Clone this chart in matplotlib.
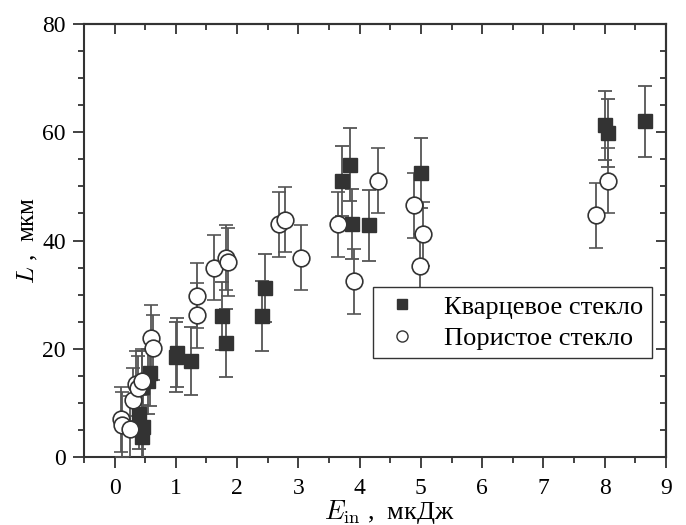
import matplotlib.pyplot as plt
from matplotlib.lines import Line2D
from matplotlib.ticker import MultipleLocator

plt.rcParams["font.family"] = ["Liberation Serif", "DejaVu Serif"]
plt.rcParams["mathtext.fontset"] = "cm"

# Кварцевое стекло
quartz_e = [0.45, 0.46, 0.40, 0.45, 0.55, 0.57, 1.00, 1.02, 1.25, 1.75, 1.82,
            2.40, 2.45, 3.72, 3.85, 3.87, 4.15, 5.00, 8.00, 8.05, 8.65]
quartz_l = [3.7, 5.5, 8.0, 13.0, 14.0, 15.5, 18.5, 19.3, 17.8, 26.0, 21.0,
            26.0, 31.2, 51.0, 54.0, 43.0, 42.8, 52.5, 61.3, 59.8, 62.0]
quartz_err = [6.0, 6.0, 6.5, 6.5, 6.0, 6.0, 6.5, 6.3, 6.3, 6.3, 6.3,
              6.5, 6.3, 6.5, 6.7, 6.5, 6.5, 6.5, 6.4, 6.3, 6.5]

# Пористое стекло
porous_e = [0.10, 0.12, 0.25, 0.30, 0.35, 0.38, 0.45, 0.60, 0.62, 1.35, 1.35,
            1.62, 1.82, 1.85, 2.68, 2.78, 3.05, 3.65, 3.90, 4.30, 4.88, 4.98,
            5.03, 7.85, 8.05]
porous_l = [7.0, 6.0, 5.2, 10.5, 13.5, 12.7, 14.0, 22.0, 20.2, 26.2, 29.8,
            35.0, 36.8, 36.0, 43.0, 43.8, 36.8, 43.0, 32.5, 51.0, 46.5, 35.2,
            41.2, 44.7, 51.0]
porous_err = [6.0, 6.0, 6.0, 6.0, 6.0, 6.0, 6.0, 6.0, 6.0, 6.0, 6.0,
              6.0, 6.0, 6.3, 6.0, 6.0, 6.0, 6.0, 6.0, 6.0, 6.0, 6.0,
              6.0, 6.0, 6.0]

labels = ["Кварцевое стекло", "Пористое стекло"]
DARK = "#333333"
BAR = "#555555"

fig = plt.figure(figsize=(6.86, 5.25), dpi=100)
ax = fig.add_axes([0.1224, 0.1295, 0.8484, 0.8248])

ax.errorbar(quartz_e, quartz_l, yerr=quartz_err, fmt="s", color=DARK,
            markersize=10, ecolor=BAR, elinewidth=1.3, capsize=5,
            capthick=1.3, zorder=3)
ax.errorbar(porous_e, porous_l, yerr=porous_err, fmt="o", mfc="white",
            mec=DARK, mew=1.2, markersize=12, ecolor=BAR,
            elinewidth=1.3, capsize=5, capthick=1.3, zorder=3)

ax.set_xlim(-0.5, 9)
ax.set_ylim(0, 80)
ax.xaxis.set_major_locator(MultipleLocator(1))
ax.xaxis.set_minor_locator(MultipleLocator(0.5))
ax.yaxis.set_major_locator(MultipleLocator(20))
ax.yaxis.set_minor_locator(MultipleLocator(5))

for spine in ax.spines.values():
    spine.set_linewidth(1.5)
    spine.set_color(DARK)
ax.tick_params(which="both", direction="out", color=DARK, width=1.3,
               labelsize=17, top=False, right=False)
ax.tick_params(which="major", length=8)
ax.tick_params(which="minor", length=4)
ax.tick_params(axis="x", pad=7)
ax.tick_params(axis="y", pad=5)

# правая и верхняя оси: штрихи внутрь
for sec, axis, major, minor in ((ax.secondary_yaxis("right"), "y", 20, 5),
                                (ax.secondary_xaxis("top"), "x", 1, 0.5)):
    sub = sec.yaxis if axis == "y" else sec.xaxis
    sub.set_major_locator(MultipleLocator(major))
    sub.set_minor_locator(MultipleLocator(minor))
    sec.tick_params(which="both", direction="in", color=DARK, width=1.3,
                    labelright=False, labeltop=False)
    sec.tick_params(which="major", length=7)
    sec.tick_params(which="minor", length=4)
    for spine in sec.spines.values():
        spine.set_linewidth(1.5)
        spine.set_color(DARK)

ax.set_xlabel(r"$E_{\rm in}$ ,  мкДж", fontsize=19)
ax.xaxis.set_label_coords(0.525, -0.095)
ax.set_ylabel(r"$L$ ,  мкм", fontsize=18, labelpad=2)

handles = [
    Line2D([], [], linestyle="none", marker="s", color=DARK, markersize=7),
    Line2D([], [], linestyle="none", marker="o", mfc="white", mec=DARK,
           mew=1.0, markersize=8),
]
leg = ax.legend(handles, labels, loc="upper left",
                bbox_to_anchor=(0.497, 0.392), fontsize=19,
                fancybox=False, edgecolor=DARK, framealpha=1,
                borderpad=0.3, handletextpad=0.8, labelspacing=0.3,
                handlelength=1.6, borderaxespad=0)
leg.get_frame().set_linewidth(1.0)

fig.savefig("out.png", dpi=100, facecolor="white")
